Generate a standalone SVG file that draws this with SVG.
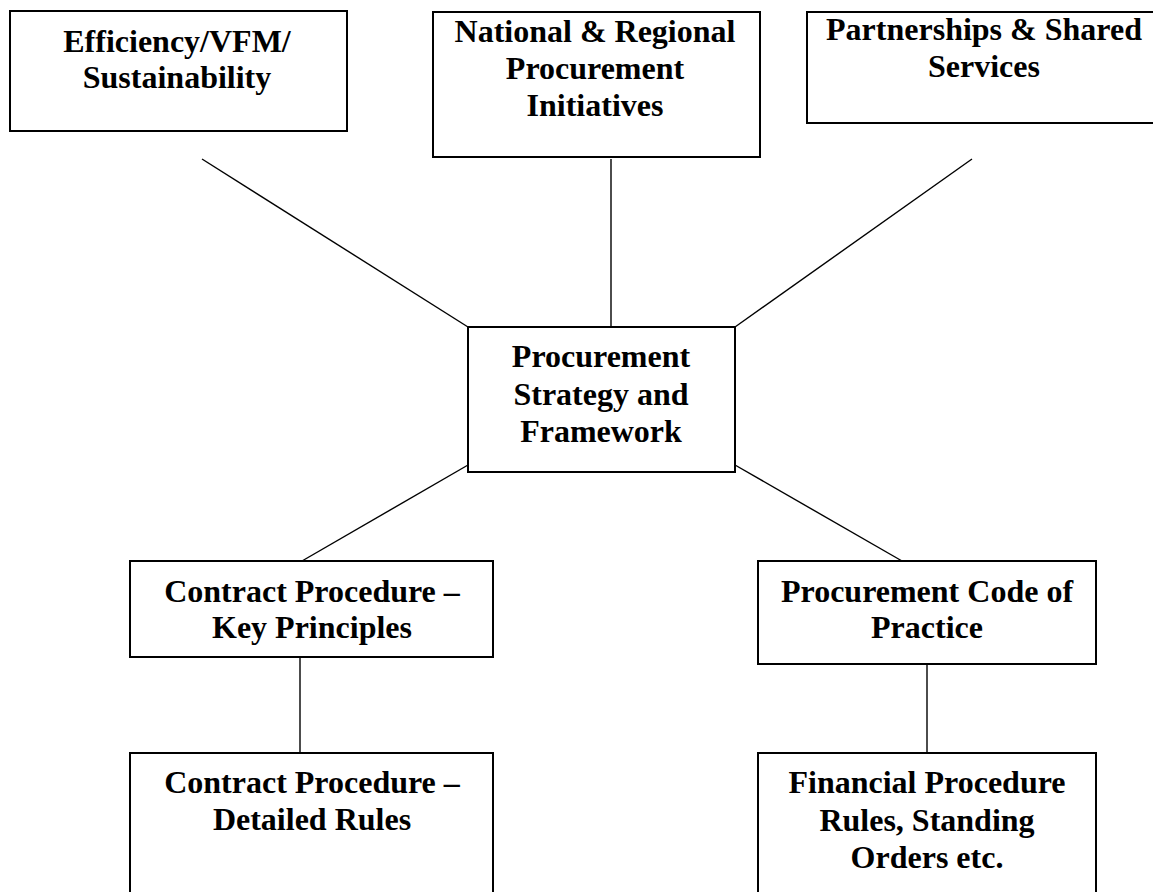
<svg xmlns="http://www.w3.org/2000/svg" width="1153" height="892" viewBox="0 0 1153 892">
<style>
.box{fill:#fff;stroke:#000;stroke-width:2}
.t{font-family:"Liberation Serif","Times New Roman",serif;font-weight:bold;font-size:32px;text-anchor:middle;fill:#000}
.c{stroke:#000;stroke-width:1.4;fill:none}
</style>
<rect width="1153" height="892" fill="#fff"/>
<g id="connectors">
<line class="c" x1="202" y1="159" x2="468" y2="327"/>
<line class="c" x1="611" y1="159" x2="611" y2="327"/>
<line class="c" x1="972" y1="159" x2="735" y2="327"/>
<line class="c" x1="468" y1="465" x2="302" y2="561"/>
<line class="c" x1="735" y1="465" x2="902" y2="561"/>
<line class="c" x1="300" y1="657" x2="300" y2="753"/>
<line class="c" x1="927" y1="657" x2="927" y2="753"/>
</g>
<g id="n1">
<rect class="box" x="10" y="11" width="337" height="120"/>
<text class="t" x="177" y="52">Efficiency/VFM/</text>
<text class="t" x="177" y="88">Sustainability</text>
</g>
<g id="n2">
<rect class="box" x="433" y="12" width="327" height="145"/>
<text class="t" x="595" y="42">National &amp; Regional</text>
<text class="t" x="595" y="79">Procurement</text>
<text class="t" x="595" y="116">Initiatives</text>
</g>
<g id="n3">
<rect class="box" x="807" y="12" width="350" height="111"/>
<text class="t" x="984" y="40">Partnerships &amp; Shared</text>
<text class="t" x="984" y="77">Services</text>
</g>
<g id="n4">
<rect class="box" x="468" y="327" width="267" height="145"/>
<text class="t" x="601" y="367">Procurement</text>
<text class="t" x="601" y="405">Strategy and</text>
<text class="t" x="601" y="442">Framework</text>
</g>
<g id="n5">
<rect class="box" x="130" y="561" width="363" height="96"/>
<text class="t" x="312" y="602">Contract Procedure –</text>
<text class="t" x="312" y="638">Key Principles</text>
</g>
<g id="n6">
<rect class="box" x="758" y="561" width="338" height="103"/>
<text class="t" x="927" y="602">Procurement Code of</text>
<text class="t" x="927" y="638">Practice</text>
</g>
<g id="n7">
<rect class="box" x="130" y="753" width="363" height="150"/>
<text class="t" x="312" y="793">Contract Procedure –</text>
<text class="t" x="312" y="830">Detailed Rules</text>
</g>
<g id="n8">
<rect class="box" x="758" y="753" width="338" height="150"/>
<text class="t" x="927" y="793">Financial Procedure</text>
<text class="t" x="927" y="831">Rules, Standing</text>
<text class="t" x="927" y="868">Orders etc.</text>
</g>
</svg>
